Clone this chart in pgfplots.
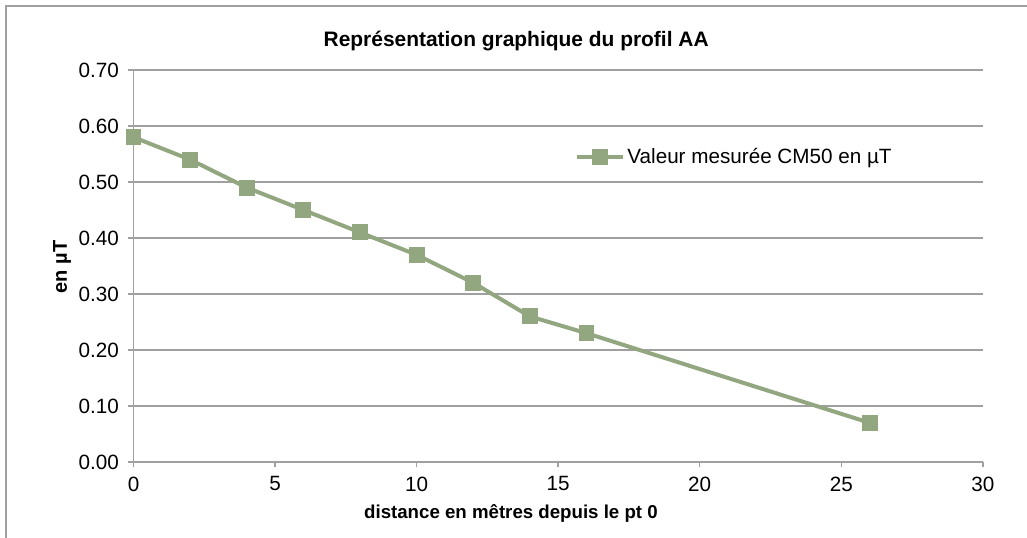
\documentclass[border=0pt]{standalone}
\usepackage{pgfplots}
\pgfplotsset{compat=1.18}
\usepackage{fontspec}
\setmainfont{Liberation Sans}
\definecolor{ser}{RGB}{146,166,128}
\definecolor{gridc}{RGB}{160,160,160}
\begin{document}
\begin{tikzpicture}
\useasboundingbox (-100.125pt,-56.25pt) rectangle (670.125pt,346.5pt);
\draw[gridc, line width=1.1pt] (-95.6pt,-60pt) -- (-95.6pt,342pt) -- (675pt,342pt);
\begin{axis}[
  at={(0pt,0pt)}, anchor=south west,
  scale only axis, width=637pt, height=294pt,
  xmin=0, xmax=30, ymin=0, ymax=0.7,
  xtick={0,5,...,30}, ytick={0,0.1,...,0.7},
  axis x line*=bottom, axis y line*=left,
  axis line style={gridc, line width=1.1pt, -},
  ymajorgrids, grid style={gridc, line width=1.1pt},
  tick align=outside, major tick length=4pt,
  tick style={gridc, line width=1.1pt},
  every tick label/.append style={font=\fontsize{15.5}{17}\selectfont, text=black},
  /pgf/number format/assume math mode=true,
  yticklabel style={/pgf/number format/.cd, fixed, fixed zerofill, precision=2, /tikz/.cd, xshift=-3.5pt},
  xticklabel style={/pgf/number format/.cd, fixed, precision=0, /tikz/.cd, yshift=-3.5pt},
  legend style={draw=none, fill=none, at={(0.52,0.778)}, anchor=west,
    font=\fontsize{15.5}{17}\selectfont, inner sep=0pt},
  legend image code/.code={
    \draw[#1, mark repeat=2, mark phase=2] plot coordinates {(0pt,0pt) (17pt,0pt) (34pt,0pt)};},
  clip=false,
]
\addplot[ser, line width=3pt, mark=square*, mark size=5.6pt, mark options={solid, fill=ser, draw=ser, line width=0pt}]
  coordinates {(0,0.58) (2,0.54) (4,0.49) (6,0.45) (8,0.41) (10,0.37) (12,0.32) (14,0.26) (16,0.23) (26,0.07)};
\addlegendentry{Valeur mesurée CM50 en µT}
\end{axis}
\node[font=\bfseries\fontsize{15.7}{17}\selectfont] at (287pt,315.75pt) {Représentation graphique du profil AA};
\node[font=\bfseries\fontsize{14}{16}\selectfont] at (283.1pt,-38.25pt) {distance en mêtres depuis le pt 0};
\node[font=\bfseries\fontsize{15}{17}\selectfont, rotate=90] at (-53.6pt,146.25pt) {en µT};
\end{tikzpicture}
\end{document}
